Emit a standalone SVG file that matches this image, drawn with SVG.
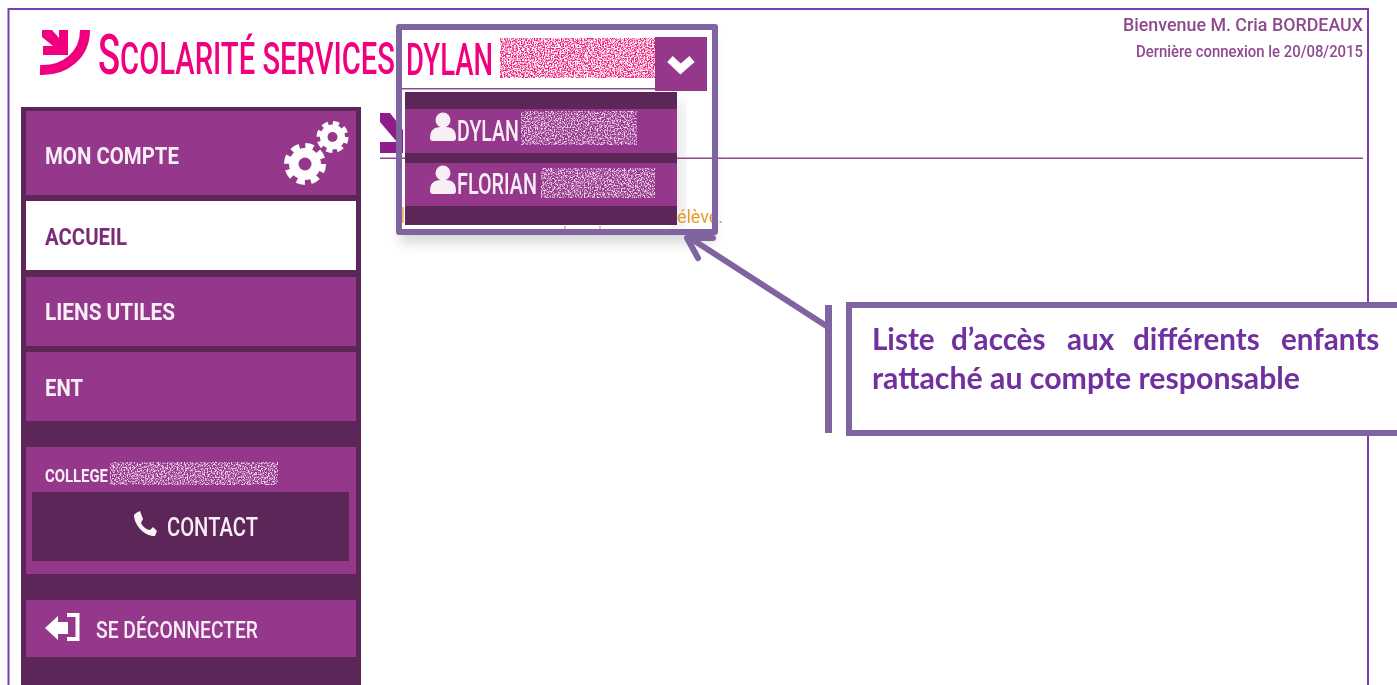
<svg xmlns="http://www.w3.org/2000/svg" width="1397" height="685" viewBox="0 0 1397 685">
<defs>
<style>
.ui{font-family:Roboto,"Liberation Sans",sans-serif;font-weight:700}
.w{fill:#f8eef6}
.item{fill:#95388c}
.dark{fill:#5c2558}
.pink{fill:#f0057f}
.hl{fill:none;stroke:#8064a2;stroke-width:6;stroke-linejoin:round}
.note{font-family:Lato,"Noto Sans",sans-serif;font-weight:700;font-size:29.6px;fill:#7030a0}
</style>
<filter id="soft" x="-2%" y="-2%" width="104%" height="104%"><feGaussianBlur stdDeviation="0.45"/></filter>
<filter id="shadow" x="-10%" y="-10%" width="120%" height="120%"><feGaussianBlur stdDeviation="6"/></filter>
<filter id="noisePink" x="0" y="0" width="1" height="1" color-interpolation-filters="sRGB">
<feTurbulence type="fractalNoise" baseFrequency="0.7" numOctaves="2" seed="4"/>
<feColorMatrix values="0 0 0 0 0.93  0 0 0 0 0.1  0 0 0 0 0.48  4 0 0 0 -1.55"/>
<feGaussianBlur stdDeviation="0.45"/>
</filter>
<filter id="noiseLight" x="0" y="0" width="1" height="1" color-interpolation-filters="sRGB">
<feTurbulence type="fractalNoise" baseFrequency="0.7" numOctaves="2" seed="9"/>
<feColorMatrix values="0 0 0 0 0.95  0 0 0 0 0.85  0 0 0 0 0.93  4 0 0 0 -1.7"/>
<feGaussianBlur stdDeviation="0.45"/>
</filter>
</defs>
<rect width="1397" height="685" fill="#fff"/>
<path d="M8.500 685V9H1368V685" fill="none" stroke="#7b3db0" stroke-width="2"/>
<rect x="400" y="36" width="314" height="208" fill="#000" opacity="0.14" filter="url(#shadow)"/>
<rect x="396" y="24" width="322" height="211" fill="#fff"/>
<rect x="671" y="100" width="14" height="128" fill="#000" opacity="0.08" filter="url(#shadow)"/>
<g filter="url(#soft)">
<g id="logo">
<path class="pink" d="M42 30H52L59 38V30H68V55H43V46H53L42 37Z"/>
<path d="M85 30C85 55 65 71 40 70" fill="none" stroke="#f0057f" stroke-width="10"/>
<text class="ui pink" x="98" y="74" textLength="297" lengthAdjust="spacingAndGlyphs" style="font-weight:500"><tspan font-size="55">S</tspan><tspan font-size="44">COLARITÉ SERVICES</tspan></text>
</g>
<g id="welcome">
<text class="ui" x="1363" y="31" font-size="19" fill="#8e4a8e" text-anchor="end" textLength="240" lengthAdjust="spacingAndGlyphs" style="font-weight:500">Bienvenue M. Cria BORDEAUX</text>
<text class="ui" x="1363" y="57" font-size="16.5" fill="#8e4a8e" text-anchor="end" textLength="227" lengthAdjust="spacingAndGlyphs" style="font-weight:500">Dernière connexion le 20/08/2015</text>
</g>
<g id="page-heading">
<path d="M380 113H390L403 130V153H380V142H397L380 122Z" fill="#8e1a8a"/>
<rect x="380" y="157.500" width="983" height="1.500" fill="#8e4a8e"/>
<text class="ui" x="677" y="223" font-size="19" fill="#e39a2f" textLength="46" lengthAdjust="spacingAndGlyphs" style="font-weight:400">élève.</text>
<path d="M403 207V223M565 226V231M600 226V231" stroke="#e8a33d" stroke-width="2" opacity="0.7" fill="none"/>
</g>
<g id="sidebar">
<rect class="dark" x="21" y="107" width="340" height="578"/>
<g id="menu-compte">
<rect class="item" x="26" y="111" width="330" height="84"/>
<text class="ui w" x="45" y="164" font-size="24" textLength="134" lengthAdjust="spacingAndGlyphs">MON COMPTE</text>
<g fill="#fff">
<circle cx="305" cy="164" r="16"/>
<circle cx="305" cy="164" r="18" fill="none" stroke="#fff" stroke-width="6" stroke-dasharray="8.100 6"/>
<circle cx="305" cy="164" r="6.500" fill="#95388c"/>
<circle cx="332.500" cy="137" r="12.500"/>
<circle cx="332.500" cy="137" r="13.500" fill="none" stroke="#fff" stroke-width="5" stroke-dasharray="6 4.600"/>
<circle cx="332.500" cy="137" r="5" fill="#95388c"/>
</g>
</g>
<g id="menu-accueil">
<rect x="26" y="201" width="330" height="69" fill="#fff"/>
<text class="ui" x="45" y="245" font-size="24" fill="#7a2a78" textLength="82" lengthAdjust="spacingAndGlyphs">ACCUEIL</text>
</g>
<g id="menu-liens">
<rect class="item" x="26" y="277" width="330" height="69"/>
<text class="ui w" x="45" y="320" font-size="24" textLength="130" lengthAdjust="spacingAndGlyphs">LIENS UTILES</text>
</g>
<g id="menu-ent">
<rect class="item" x="26" y="352" width="330" height="69"/>
<text class="ui w" x="45" y="396" font-size="24" textLength="38" lengthAdjust="spacingAndGlyphs">ENT</text>
</g>
<g id="menu-college">
<rect class="item" x="26" y="447" width="330" height="127"/>
<text class="ui w" x="45" y="482" font-size="18" textLength="63" lengthAdjust="spacingAndGlyphs">COLLEGE</text>
<rect x="110" y="462" width="168" height="23" filter="url(#noiseLight)"/>
<rect class="dark" x="32" y="492" width="317" height="69"/>
<path d="M136 513L140 511L143 519L141 523C143 527 147 530 150 530L153 527L157 531L155 536C146 537 134 526 134 515Z" fill="#fbf3f8"/>
<text class="ui w" x="167" y="536" font-size="25" textLength="91" lengthAdjust="spacingAndGlyphs" style="font-weight:500">CONTACT</text>
</g>
<g id="menu-logout">
<rect class="item" x="26" y="600" width="330" height="57"/>
<path d="M45 628L58 616V622H68V634H58V640Z" fill="#fff"/>
<path d="M67 615H77.500V639H67" fill="none" stroke="#fff" stroke-width="4"/>
<text class="ui w" x="96" y="638" font-size="23" textLength="162" lengthAdjust="spacingAndGlyphs" style="font-weight:500">SE DÉCONNECTER</text>
</g>
</g>
<g id="dropdown">
<text class="ui pink" x="406" y="75" font-size="44" textLength="87" lengthAdjust="spacingAndGlyphs" style="font-weight:500">DYLAN</text>
<rect x="500" y="38" width="155" height="40" filter="url(#noisePink)"/>
<rect x="402" y="88" width="253" height="1.500" fill="#8e4a8e"/>
<rect class="item" x="655" y="37" width="52" height="54"/>
<path d="M670 59L680.500 69L692 59" fill="none" stroke="#fff" stroke-width="8"/>
<rect class="dark" x="405" y="92" width="272" height="133"/>
<g id="child-dylan">
<rect class="item" x="405" y="109" width="272" height="44"/>
<circle class="w" cx="443" cy="120" r="7.500"/>
<path class="w" d="M430 138Q430 127 441 127H446Q456 127 456 138Q456 141 453 141H433Q430 141 430 138Z"/>
<text class="ui w" x="457" y="141" font-size="29" textLength="62" lengthAdjust="spacingAndGlyphs" style="font-weight:500">DYLAN</text>
<rect x="521" y="111" width="116" height="34" filter="url(#noiseLight)"/>
</g>
<g id="child-florian">
<rect class="item" x="405" y="163" width="272" height="43"/>
<circle class="w" cx="443" cy="173" r="7.500"/>
<path class="w" d="M430 191Q430 180 441 180H446Q456 180 456 191Q456 194 453 194H433Q430 194 430 191Z"/>
<text class="ui w" x="457" y="194" font-size="29" textLength="80" lengthAdjust="spacingAndGlyphs" style="font-weight:500">FLORIAN</text>
<rect x="541" y="168" width="114" height="30" filter="url(#noiseLight)"/>
</g>
</g>
</g>
<g id="connectors">
<rect class="hl" x="399" y="27" width="316" height="205"/>
<path d="M828 327L690 238M713 238L687 238L698 258" fill="none" stroke="#8064a2" stroke-width="6" stroke-linecap="round" stroke-linejoin="round"/>
<rect x="825" y="305" width="7" height="128" fill="#8064a2"/>
</g>
<g id="callout">
<path d="M1397 305H849V433H1397" fill="#fff" stroke="#8064a2" stroke-width="6"/>
<text class="note" y="350"><tspan x="872">Liste</tspan><tspan x="951">d’accès</tspan><tspan x="1067">aux</tspan><tspan x="1133">différents</tspan><tspan x="1281">enfants</tspan></text>
<text class="note" x="872" y="389" textLength="428" lengthAdjust="spacingAndGlyphs">rattaché au compte responsable</text>
</g>
</svg>
